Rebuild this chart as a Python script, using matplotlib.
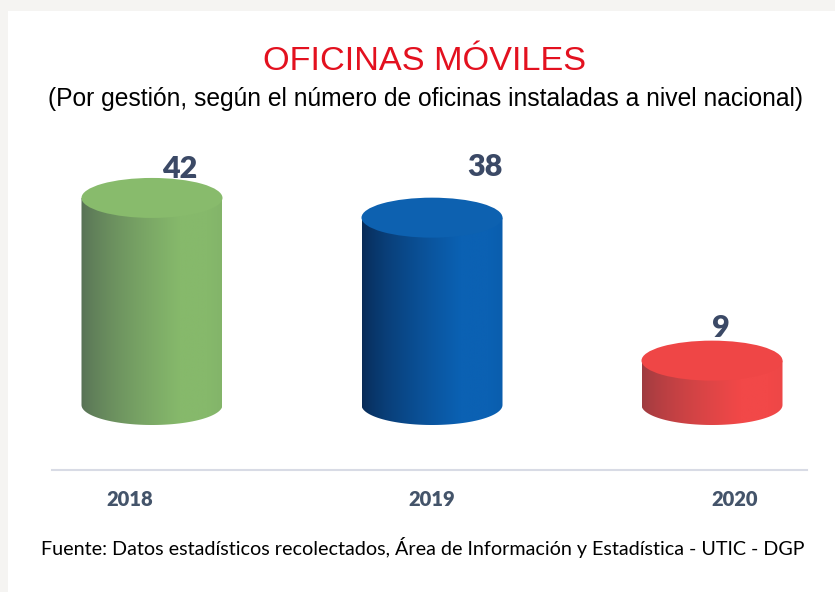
import numpy as np
import matplotlib
matplotlib.use("Agg")
import matplotlib.pyplot as plt
from matplotlib.patches import Ellipse, Rectangle, PathPatch
from matplotlib.path import Path
import matplotlib.colors as mcolors

# ---- data ----
years = ["2018", "2019", "2020"]
values = [42, 38, 9]
title = "OFICINAS MÓVILES"
subtitle = "(Por gestión, según el número de oficinas instaladas a nivel nacional)"
source = "Fuente: Datos estadísticos recolectados, Área de Información y Estadística - UTIC - DGP"

# ---- styles ----
light_cols = ["#86b96b", "#0b61b3", "#f24848"]
dark_cols = ["#566f55", "#082a55", "#9c3b40"]
top_cols = ["#88bb6c", "#0d61b0", "#ef4646"]
label_col = "#3b4966"
year_col = "#44546a"

W, H = 835, 592
fig = plt.figure(figsize=(W / 100, H / 100), dpi=100, facecolor="#f5f4f2")
fig.patches.append(Rectangle((8 / W, 0), 1, 1 - 11 / H, transform=fig.transFigure,
                             facecolor="white", edgecolor="none", zorder=-5))

ax = fig.add_axes([0, 0, 1, 1])
ax.set_zorder(2)
ax.set_axis_off()
pxx, pxy = 280.0, 4.93
ax.set_xlim(-152 / pxx, (W - 152) / pxx)
ax.set_ylim(-(H - 405) / pxy, 405 / pxy)

bw = 141 / pxx
eh = 40 / pxy

for i, v in enumerate(values):
    x0, x1 = i - bw / 2, i + bw / 2
    theta = np.linspace(np.pi, 2 * np.pi, 60)
    arc_x = i + bw / 2 * np.cos(theta)
    arc_y = eh / 2 * np.sin(theta)
    verts = [(x0, v)] + list(zip(arc_x, arc_y)) + [(x1, v), (x0, v)]
    codes = [Path.MOVETO] + [Path.LINETO] * (len(verts) - 2) + [Path.CLOSEPOLY]
    body = PathPatch(Path(verts, codes), facecolor="none", edgecolor="none")
    ax.add_patch(body)
    t = np.linspace(0, 1, 200)
    g = np.clip(t / 0.7, 0, 1) ** 0.7
    g = g - 0.06 * np.clip((t - 0.9) / 0.1, 0, 1)
    lc = np.array(mcolors.to_rgb(light_cols[i]))
    dc = np.array(mcolors.to_rgb(dark_cols[i]))
    img = dc[None, :] + (lc - dc)[None, :] * g[:, None]
    img = img[None, :, :]
    im = ax.imshow(img, extent=(x0, x1, -eh / 2 - 1, v), aspect="auto",
                   interpolation="bilinear", zorder=2)
    im.set_clip_path(body)
    ax.add_patch(Ellipse((i, v), bw, eh, facecolor=top_cols[i], edgecolor="none", zorder=3))

lab_dx = [0.10, 0.19, 0.03]
lab_dy = [0, 22, 4]
for i, v in enumerate(values):
    ax.text(i + lab_dx[i], v + eh / 2 + lab_dy[i] / pxy, str(v), ha="center", va="baseline",
            fontsize=22, fontweight="heavy", family=["Lato", "DejaVu Sans"], color=label_col,
            zorder=2.5)

yb = -(470 - 405) / pxy
ax.plot([(52 - 152) / pxx, (807 - 152) / pxx], [yb, yb], color="#d8dbe5", lw=1.5, zorder=1)

yr_dx = [-0.08, 0.0, 0.08]
yy = -(500 - 405) / pxy
for i, yl in enumerate(years):
    ax.text(i + yr_dx[i], yy, yl, ha="center", va="center", fontsize=14.5, fontweight="heavy",
            family=["Lato", "DejaVu Sans"], color=year_col)

t1 = fig.text(425 / W, 1 - 62 / H, title, ha="center", va="center", fontsize=27,
              family=["Liberation Sans", "DejaVu Sans"], color="#e3111f")
t2 = fig.text(425 / W, 1 - 99 / H, subtitle, ha="center", va="center", fontsize=19,
              family=["Liberation Sans", "DejaVu Sans"], color="black")
t3 = fig.text(423 / W, 1 - 547 / H, source, ha="center", va="center", fontsize=12.5,
              family=["Lato", "DejaVu Sans"], color="black")

renderer = fig.canvas.get_renderer()
for txt, target in [(t1, 322), (t2, 756), (t3, 767)]:
    for _ in range(3):
        w = txt.get_window_extent(renderer).width
        txt.set_fontsize(txt.get_fontsize() * target / w)

fig.savefig("out.png", dpi=100, facecolor=fig.get_facecolor())
